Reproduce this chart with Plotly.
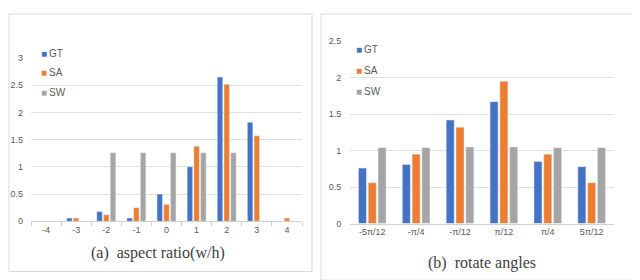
import plotly.graph_objects as go

W, H = 640, 280

# ---- data ----
ar_cats = ["-4", "-3", "-2", "-1", "0", "1", "2", "3", "4"]
ar_gt = [0, 0.06, 0.18, 0.06, 0.50, 1.00, 2.65, 1.82, 0]
ar_sa = [0, 0.06, 0.12, 0.25, 0.31, 1.38, 2.52, 1.57, 0.06]
ar_sw = [0, 0, 1.26, 1.26, 1.26, 1.26, 1.26, 0, 0]

ang_cats = ["-5π/12", "-π/4", "-π/12", "π/12", "π/4", "5π/12"]
ang_gt = [0.76, 0.81, 1.42, 1.67, 0.85, 0.78]
ang_sa = [0.56, 0.95, 1.32, 1.95, 0.95, 0.56]
ang_sw = [1.04, 1.04, 1.05, 1.05, 1.04, 1.04]

series_names = ["GT", "SA", "SW"]
colors = ["#4472C4", "#ED7D31", "#A5A5A5"]

fig = go.Figure()

def px_x(p):
    return p / W

def px_y(p):
    return 1 - p / H

for name, col, vals in zip(series_names, colors, [ar_gt, ar_sa, ar_sw]):
    fig.add_trace(go.Bar(x=ar_cats, y=vals, name=name, marker_color=col,
                         xaxis="x", yaxis="y", showlegend=False))
for name, col, vals in zip(series_names, colors, [ang_gt, ang_sa, ang_sw]):
    fig.add_trace(go.Bar(x=ang_cats, y=vals, name=name, marker_color=col,
                         xaxis="x2", yaxis="y2", showlegend=False))

tickfont = dict(family="Liberation Sans", size=9, color="#595959")
legfont = dict(family="Liberation Sans", size=10, color="#595959")

annotations = [
    dict(text="(a)  aspect ratio(w/h)", xref="paper", yref="paper",
         x=px_x(150), y=px_y(249), xanchor="center", yanchor="middle", showarrow=False,
         font=dict(family="Liberation Serif", size=16, color="#404040")),
    dict(text="(b)  rotate angles", xref="paper", yref="paper",
         x=px_x(474), y=px_y(259), xanchor="center", yanchor="middle", showarrow=False,
         font=dict(family="Liberation Serif", size=16, color="#404040")),
]
# legends (Excel-like: small square + label)
for (lx, ly0, dy) in [(31, 41.7, 20.5), (346, 38.3, 21.7)]:
    for i, (name, col) in enumerate(zip(series_names, colors)):
        annotations.append(dict(
            text=f"<span style='color:{col}'>■</span>\u2009{name}", xref="paper", yref="paper",
            x=px_x(lx), y=px_y(ly0 + i * dy), xanchor="left", yanchor="middle",
            showarrow=False, font=legfont))

fig.update_layout(
    width=W, height=H,
    margin=dict(l=0, r=0, t=0, b=0),
    paper_bgcolor="white", plot_bgcolor="white",
    showlegend=False,
    barmode="group", bargap=0.33, bargroupgap=0.18,
    xaxis=dict(domain=[px_x(23), px_x(294)], type="category", tickfont=tickfont,
               showgrid=False, showline=True, linecolor="#d0d0d0", linewidth=1,
               ticks="outside", tickson="boundaries", ticklen=4, tickcolor="#d0d0d0",
               anchor="y", fixedrange=True),
    yaxis=dict(domain=[px_y(216), px_y(46.7)], range=[0, 3], tickvals=[0, 0.5, 1, 1.5, 2, 2.5, 3],
               ticktext=["0", "0.5", "1", "1.5", "2", "2.5", "3"],
               tickfont=tickfont, showgrid=True, gridcolor="#e0e0e0", gridwidth=1,
               zeroline=False, showline=False, ticklabelstandoff=7, anchor="x"),
    xaxis2=dict(domain=[px_x(342.3), px_x(605.6)], type="category", tickfont=tickfont,
                showgrid=False, showline=True, linecolor="#d0d0d0", linewidth=1,
                ticks="", anchor="y2"),
    yaxis2=dict(domain=[px_y(218.3), px_y(29.3)], range=[0, 2.5], tickvals=[0, 0.5, 1, 1.5, 2, 2.5],
                ticktext=["0", "0.5", "1", "1.5", "2", "2.5"],
                tickfont=tickfont, showgrid=True, gridcolor="#e0e0e0", gridwidth=1,
                zeroline=False, showline=False, ticklabelstandoff=8, anchor="x2"),
    shapes=[
        dict(type="rect", xref="paper", yref="paper", x0=px_x(1), x1=px_x(304),
             y0=px_y(268), y1=px_y(1), line=dict(color="#d9d9d9", width=1)),
        dict(type="rect", xref="paper", yref="paper", x0=px_x(313), x1=px_x(635),
             y0=px_y(277), y1=px_y(1), line=dict(color="#d9d9d9", width=1)),
    ],
    annotations=annotations,
)

fig.write_html("out.html")
